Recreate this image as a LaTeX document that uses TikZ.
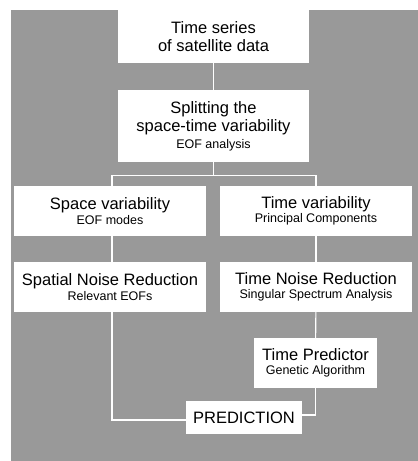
\documentclass[tikz,border=0pt]{standalone}
\usepackage{fontspec}
\setmainfont{Liberation Sans}
\definecolor{bggray}{RGB}{153,153,153}
\newcommand{\bigtxt}{\fontsize{16.5}{18.5}\selectfont}
\newcommand{\smalltxt}{\fontsize{12.5}{14}\selectfont}
\tikzset{
    box/.style={fill=white, draw=none, align=center, inner sep=0pt, font=\bigtxt},
    link/.style={draw=white, line width=1.1pt}
}
\begin{document}
\begin{tikzpicture}[x=1pt,y=-1pt]
    \useasboundingbox (0,0) rectangle (418,461);
    \fill[bggray] (11,10) rectangle (418,461);
    % boxes
    \node[box, minimum width=191pt, minimum height=53pt] (series) at (213.5,36.5) {Time series\\of satellite data};
    \node[box, minimum width=191pt, minimum height=72pt] (split) at (213.5,126) {Splitting the\\space-time variability\\[-2pt]{\smalltxt EOF analysis}};
    \node[box, minimum width=192pt, minimum height=50pt] (space) at (110,211) {Space variability\\[-4pt]{\smalltxt EOF modes}};
    \node[box, minimum width=192pt, minimum height=50pt] (time) at (316,211) {Time variability\\[-4pt]{\smalltxt Principal Components}};
    \node[box, minimum width=192pt, minimum height=50pt] (snr) at (110,287) {Spatial Noise Reduction\\[-4pt]{\smalltxt Relevant EOFs}};
    \node[box, minimum width=192pt, minimum height=50pt] (tnr) at (316,287) {Time Noise Reduction\\[-4pt]{\smalltxt Singular Spectrum Analysis}};
    \node[box, minimum width=123pt, minimum height=50pt] (pred) at (315.5,363) {Time Predictor\\[-4pt]{\smalltxt Genetic Algorithm}};
    \node[box, minimum width=116pt, minimum height=33pt] (result) at (244,417.5) {PREDICTION};
    % connectors
    \draw[link] (series) -- (split);
    \draw[link] (split.south) -- ++(0,13) coordinate (fork);
    \draw[link] ([xshift=2pt]space.north) |- (fork) -| (time.north);
    \draw[link] ([xshift=2pt]space.south) -- ([xshift=2pt]snr.north);
    \draw[link] (time) -- (tnr);
    \draw[link] (tnr) -- (pred);
    \draw[link] ([xshift=2pt]snr.south) |- ([yshift=-2.5pt]result.west);
    \draw[link] (pred.south) |- ([yshift=2.5pt]result.east);
\end{tikzpicture}
\end{document}
